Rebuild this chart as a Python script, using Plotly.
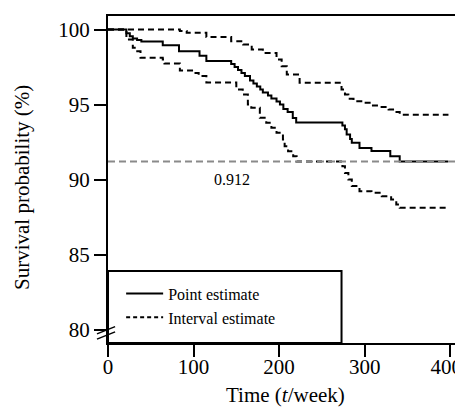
import plotly.graph_objects as go

# ---- data (weeks, survival %) ----
point_x = [0, 21.5, 25.5, 29, 34, 39, 64, 83, 107, 115, 144, 148, 152, 156, 160, 166, 170, 174,
           178, 181, 187, 191, 197, 201, 205, 210, 216, 220, 274, 277, 279, 283, 285, 294, 308,
           330, 341, 398]
point_y = [100, 99.75, 99.55, 99.4, 99.3, 99.2, 98.95, 98.55, 98.25, 97.9, 97.7, 97.5, 97.3, 97.1,
           96.9, 96.6, 96.4, 96.2, 96.0, 95.8, 95.6, 95.4, 95.2, 95.0, 94.7, 94.5, 94.1, 93.8, 93.6,
           93.35, 93.0, 92.7, 92.45, 92.1, 91.9, 91.55, 91.2, 91.2]

upper_x = [0, 84, 92, 115, 144, 158, 168, 181, 197, 203, 209, 224, 273, 277, 281, 287, 298, 308,
           318, 328, 335, 341, 398]
upper_y = [100, 99.9, 99.78, 99.5, 99.22, 99.0, 98.67, 98.44, 98.0, 97.55, 97.0, 96.45, 96.0, 95.67,
           95.38, 95.22, 95.11, 94.93, 94.84, 94.67, 94.5, 94.32, 94.32]

lower_x = [0, 21.5, 29, 33, 38, 64, 66, 84, 100, 106, 115, 150, 157.5, 163.5, 167.5, 177.5, 185,
           191, 197, 204.5, 206.5, 210.5, 216.5, 220.5, 274, 277, 281, 285, 294, 308, 320, 331,
           337, 341, 398]
lower_y = [100, 99.33, 98.78, 98.55, 98.11, 98.0, 97.73, 97.27, 97.1, 96.9, 96.47, 96.0, 95.67, 95.0,
           94.78, 94.11, 93.78, 93.45, 93.11, 92.67, 92.22, 91.89, 91.55, 91.2, 90.89, 90.44, 90.0,
           89.56, 89.22, 89.11, 88.89, 88.67, 88.33, 88.11, 88.11]

ref_value = 91.2
ref_label = "0.912"
x_ticks = [0, 100, 200, 300, 400]
x_tick_labels = ["0", "100", "200", "300", "400"]
y_ticks = [80, 85, 90, 95, 100]
x_title = "Time (<i>t</i>/week)"
y_title = "Survival probability (%)"
legend_box_x = 273
legend_box_y = 83.9
x_range = [0, 415]

FONT = "Liberation Serif, Times New Roman, serif"

fig = go.Figure()

# reference line drawn on a twin x-axis that carries the edge tick label
fig.add_trace(go.Scatter(x=[0, 415], y=[ref_value, ref_value], mode="lines", xaxis="x2",
                         line=dict(color="#8a8a8a", width=2, dash="7px,4px"),
                         showlegend=False, hoverinfo="skip"))
fig.add_trace(go.Scatter(x=upper_x, y=upper_y, mode="lines", line_shape="hv",
                         line=dict(color="black", width=2, dash="6px,4px"),
                         showlegend=False, legendgroup="ci"))
fig.add_trace(go.Scatter(x=lower_x, y=lower_y, mode="lines", line_shape="hv",
                         line=dict(color="black", width=2, dash="6px,4px"),
                         showlegend=False, legendgroup="ci"))
fig.add_trace(go.Scatter(x=point_x, y=point_y, mode="lines", line_shape="hv",
                         line=dict(color="black", width=2),
                         name="Point estimate", legendrank=1))
fig.add_trace(go.Scatter(x=[None], y=[None], mode="lines",
                         line=dict(color="black", width=2, dash="4px,3px"),
                         name="Interval estimate", legendgroup="ci", legendrank=2))

fig.add_annotation(x=145, y=90.0, text=ref_label, showarrow=False,
                   font=dict(family=FONT, size=16, color="black"))

# axis titles
fig.add_annotation(xref="paper", yref="paper", x=0.5, y=-0.158, xanchor="center",
                   yanchor="middle", text=x_title, showarrow=False,
                   font=dict(family=FONT, size=21, color="black"))
fig.add_annotation(xref="paper", yref="paper", x=-0.2405, y=0.476, xanchor="center",
                   yanchor="middle", text=y_title, textangle=-90, showarrow=False,
                   font=dict(family=FONT, size=21, color="black"))

# legend frame
fig.add_shape(type="rect", xref="x", yref="y", x0=0, x1=legend_box_x, y0=79.1, y1=legend_box_y,
              line=dict(color="black", width=2), fillcolor="rgba(0,0,0,0)")

# axis break marks
for dy in (0.0, 0.016):
    fig.add_shape(type="line", xref="paper", yref="paper",
                  x0=-0.031, y0=0.012 + dy, x1=0.02, y1=0.034 + dy,
                  line=dict(color="black", width=1.5))

fig.update_layout(
    width=455, height=400,
    margin=dict(l=100, r=0, t=8, b=65),
    paper_bgcolor="white", plot_bgcolor="white",
    font=dict(family=FONT, size=21, color="black"),
    showlegend=True,
    legend=dict(x=0.037, y=0.203, xanchor="left", yanchor="top",
                bgcolor="rgba(0,0,0,0)", font=dict(family=FONT, size=16),
                itemwidth=37, traceorder="normal"),
    xaxis2=dict(overlaying="x", anchor="y", side="bottom", range=x_range,
                tickvals=x_ticks[-1:], ticktext=x_tick_labels[-1:], ticklabelshift=-4,
                ticks="", showline=False, showgrid=False, zeroline=False,
                tickfont=dict(family=FONT, size=21), automargin=False,
                ticklabeloverflow="allow", ticklabelstandoff=9),
)
fig.layout.xaxis.update(range=x_range, tickvals=x_ticks,
                        ticktext=x_tick_labels[:-1] + [""],
                        showgrid=False, zeroline=False,
                        showline=True, linecolor="black", linewidth=2, mirror=True,
                        ticks="outside", ticklen=12, tickwidth=2, tickcolor="black",
                        tickfont=dict(family=FONT, size=21), automargin=False,
                        ticklabeloverflow="allow", ticklabelstandoff=-8)
fig.update_yaxes(range=[79.1, 100.9], tickvals=y_ticks, showgrid=False, zeroline=False,
                 showline=True, linecolor="black", linewidth=2,
                 ticks="outside", ticklen=12, tickwidth=2, tickcolor="black",
                 tickfont=dict(family=FONT, size=21), automargin=False,
                 ticklabeloverflow="allow")

fig.write_html("out.html")
